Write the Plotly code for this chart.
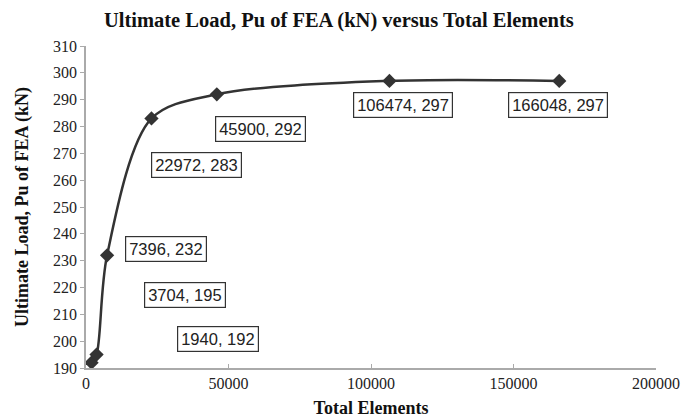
import plotly.graph_objects as go

# Datos de la curva de convergencia
total_elements = [1940, 3704, 7396, 22972, 45900, 106474, 166048]
ultimate_load = [192, 195, 232, 283, 292, 297, 297]

# Posición de cada etiqueta (coordenadas de datos)
label_x = [46300, 34700, 28100, 38900, 61400, 111200, 165600]
label_y = [200.8, 217.2, 234.4, 265.7, 279.1, 288.0, 288.0]

SERIF = "Liberation Serif, Times New Roman, serif"
SANS = "Liberation Sans, Arial, sans-serif"

fig = go.Figure()
fig.add_trace(go.Scatter(
    x=total_elements, y=ultimate_load,
    mode="lines+markers",
    line=dict(color="#333333", width=2.5, shape="spline", smoothing=0.9),
    marker=dict(symbol="diamond", size=11, color="#333333"),
    showlegend=False,
))

for xe, yl, lx, ly in zip(total_elements, ultimate_load, label_x, label_y):
    fig.add_annotation(
        x=lx, y=ly, xref="x", yref="y",
        text=f"{xe}, {yl}", showarrow=False,
        font=dict(family=SANS, size=16.5, color="#222222"),
        bordercolor="#333333", borderwidth=1.2, borderpad=3, bgcolor="white",
    )

# El navegador añade 8px de margen al body: se compensa en los márgenes
fig.update_layout(
    width=695, height=418,
    paper_bgcolor="white", plot_bgcolor="white",
    margin=dict(l=78, r=47, t=38, b=58),
    title=dict(text="<b>Ultimate Load, Pu of FEA (kN) versus Total Elements</b>",
               x=0.476, xanchor="center", y=0.971, yanchor="middle",
               font=dict(family=SERIF, size=20.5, color="#111111")),
    font=dict(family=SERIF, size=16, color="#222222"),
)

fig.update_xaxes(
    range=[0, 200000], tickvals=[0, 50000, 100000, 150000, 200000],
    ticktext=["0", "50000", "100000", "150000", "200000"],
    showgrid=False, zeroline=False, automargin=False,
    showline=True, linecolor="#aaaaaa", linewidth=2,
    ticks="inside", ticklen=4, tickcolor="#aaaaaa",
    title=dict(text="<b>Total Elements</b>", standoff=10,
               font=dict(family=SERIF, size=18, color="#111111")),
)
fig.update_yaxes(
    range=[190, 310], dtick=10,
    showgrid=False, zeroline=False, automargin=False,
    showline=True, linecolor="#aaaaaa", linewidth=1.5,
    ticks="outside", ticklen=4, tickcolor="#aaaaaa",
    title=dict(text="<b>Ultimate Load, Pu of FEA (kN)</b>", standoff=20,
               font=dict(family=SERIF, size=18, color="#111111")),
)

fig.write_html("out.html")
